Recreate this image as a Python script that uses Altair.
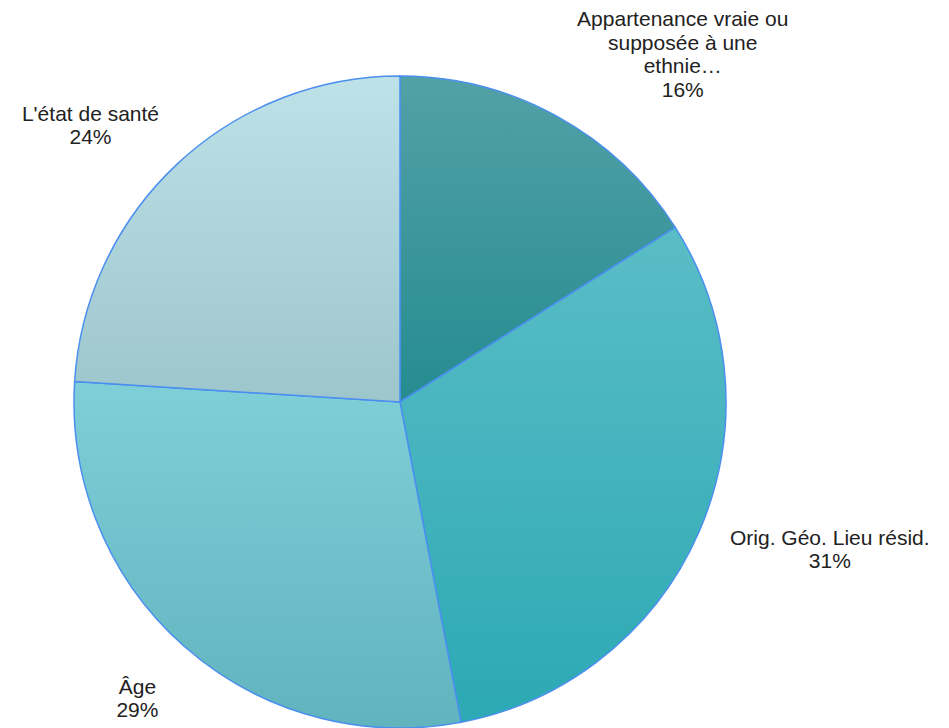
import math
import altair as alt
import pandas as pd

categories = ["Appartenance vraie ou\nsupposée à une\nethnie…", "Orig. Géo. Lieu résid.", "Âge", "L'état de santé"]
values = [16, 31, 29, 24]
order = [0, 1, 2, 3]
grad_top = ["#52a1a7", "#5abdc6", "#7fcfd8", "#bde2e8"]
grad_bottom = ["#258c90", "#2ca9b4", "#61b3be", "#9dc5cc"]
# label placement style (radius, dx, dy)
label_style = [(398, 91, -33), (440, 26, -38), (397, 0, -12), (420, -22, 19)]

df = pd.DataFrame({"cat": categories, "value": values, "order": order})

CX, CY, R = 392, 394, 326
theta_scale = alt.Scale(domain=[0, 100], range=[0, 2 * math.pi])

base = alt.Chart(df).transform_window(
    cum="sum(value)", sort=[alt.SortField("order")]
).transform_calculate(
    start="datum.cum - datum.value",
    mid="datum.cum - datum.value / 2",
    txt="datum.cat + '\\n' + datum.value + '%'",
)

layers = []
for i in range(len(categories)):
    grad = alt.Gradient(
        gradient="linear",
        stops=[alt.GradientStop(color=grad_top[i], offset=0),
               alt.GradientStop(color=grad_bottom[i], offset=1)],
        x1=0, x2=0, y1=0, y2=1,
    )
    arc = base.transform_filter(alt.datum.order == order[i]).mark_arc(
        outerRadius=R, fill=grad, stroke="#4a8ff0", strokeWidth=1.5
    ).encode(
        theta=alt.Theta("start:Q", scale=theta_scale),
        theta2="cum:Q",
        x=alt.value(CX),
        y=alt.value(CY),
    )
    layers.append(arc)

for i in range(len(categories)):
    r, dx, dy = label_style[i]
    txt = base.transform_filter(alt.datum.order == order[i]).mark_text(
        radius=r, dx=dx, dy=dy, align="center", baseline="middle",
        lineBreak="\n", font="Liberation Sans", fontSize=21, lineHeight=23.5,
        color="#222222",
    ).encode(
        theta=alt.Theta("mid:Q", scale=theta_scale),
        text="txt:N",
        x=alt.value(CX),
        y=alt.value(CY),
    )
    layers.append(txt)

chart = alt.layer(*layers).properties(
    width=933, height=720, autosize=alt.AutoSizeParams(type="none"), padding=0
).configure_view(stroke=None)

chart.save("out.html", embed_options={"renderer": "svg", "actions": False})
